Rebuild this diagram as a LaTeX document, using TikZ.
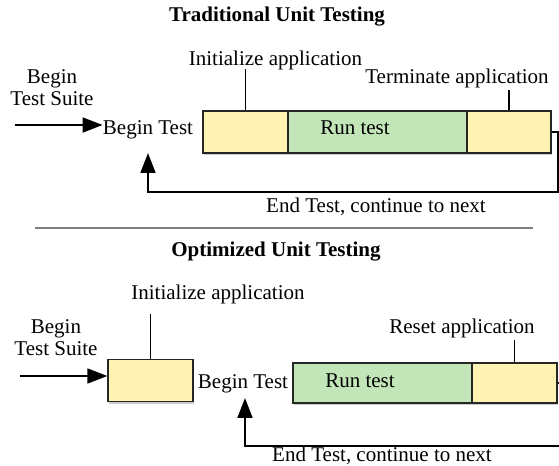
\documentclass[tikz,border=0pt]{standalone}
\usepackage{fontspec}
\setmainfont{Liberation Serif}
\usetikzlibrary{arrows.meta,shadows}
\definecolor{appyellow}{HTML}{FFF3B3}
\definecolor{rungreen}{HTML}{C3E6B9}
\begin{document}
\begin{tikzpicture}[x=0.5pt,y=-0.5pt,
    txt/.style={inner sep=0pt,align=center,font=\fontsize{10.5}{11}\selectfont},
    ttl/.style={inner sep=0pt,font=\fontsize{10.5}{11}\selectfont\bfseries},
    appbox/.style={draw=black!85,line width=0.7pt,fill=appyellow,minimum height=21pt,
      drop shadow={shadow xshift=0.4pt,shadow yshift=-1.2pt,opacity=0.4}},
    runbox/.style={appbox,fill=rungreen},
    arr/.style={line width=0.9pt,-{Triangle[length=10pt,width=7.5pt]}},
    tick/.style={line width=0.9pt}]
    \useasboundingbox (0,0) rectangle (559,466);
    \clip (0,0) rectangle (559,466);
    \node [ttl] (title1) at (277,17) {Traditional Unit Testing};
    \node [txt] (suite1) at (52,88) {Begin\\Test Suite};
    \node [txt] (beg1) at (148,130) {Begin Test};
    \node [appbox,minimum width=42.5pt] (ini1) at (245.5,132) {};
    \node [runbox,minimum width=89.5pt] (run1) at (377.5,132) {};
    \node [appbox,minimum width=42pt] (term1) at (509,132) {};
    \node [txt] (runtxt1) at (355,128) {Run test};
    \node [txt] (init1) at (275.5,60) {Initialize application};
    \node [txt] (term1txt) at (457,78) {Terminate application};
    \node [txt] (end1) at (376,207) {End Test, continue to next};
    \coordinate (start1) at (15,125);
    \coordinate (back1) at (148,153);
    \draw [arr] (start1) -- (start1 -| beg1.west);
    \draw [tick] (ini1.north) -- +(0,-41);
    \draw [tick] (term1.north) -- +(0,-20);
    \draw [arr] (term1.east) -- ++(6,0) -- ++(0,60) -| (back1);
    \draw [gray,line width=0.6pt] (35,228) -- (533,228);
    \node [ttl] (title2) at (276,252) {Optimized Unit Testing};
    \node [txt] (suite2) at (56,338) {Begin\\Test Suite};
    \node [appbox,minimum width=42.5pt] (ini2) at (150.5,380.5) {};
    \node [txt] (beg2) at (243,384) {Begin Test};
    \node [runbox,minimum width=89.5pt,minimum height=20pt] (run2) at (382.5,383) {};
    \node [appbox,minimum width=42.5pt,minimum height=20pt] (rst2) at (514.5,383) {};
    \node [txt] (runtxt2) at (360,381) {Run test};
    \node [txt] (init2) at (218,294) {Initialize application};
    \node [txt] (rst2txt) at (462,328) {Reset application};
    \node [txt] (end2) at (382,456) {End Test, continue to next};
    \coordinate (start2) at (20,376);
    \coordinate (back2) at (245,398);
    \draw [arr] (start2) -- (start2 -| ini2.west);
    \draw [tick] (ini2.north) -- +(0,-45);
    \draw [tick] (rst2.north) -- +(0,-22);
    \draw [arr] (rst2.east) -- ++(14,0) -- ++(0,63) -| (back2);
\end{tikzpicture}
\end{document}
